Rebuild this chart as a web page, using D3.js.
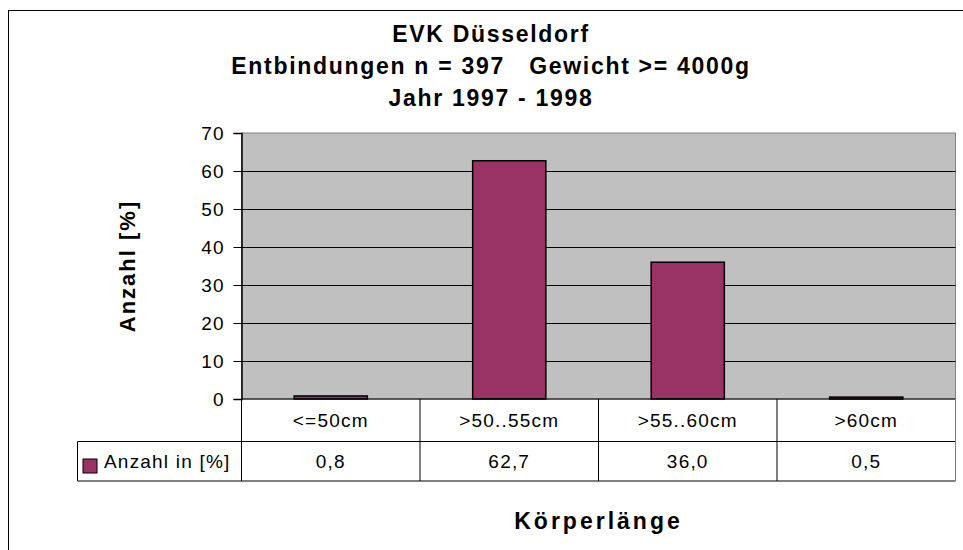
<!DOCTYPE html>
<html>
<head>
<meta charset="utf-8">
<script src="https://cdn.jsdelivr.net/npm/d3@7"></script>
<style>
  html, body { margin: 0; padding: 0; background: #fff; }
  svg text { font-family: "Liberation Sans", Arial, sans-serif; fill: #000; }
</style>
</head>
<body>
<div id="chart"></div>
<script>
// chart data
const titleLines = ['EVK Düsseldorf', 'Entbindungen n = 397   Gewicht >= 4000g', 'Jahr 1997 - 1998'];
const categories = ['<=50cm', '>50..55cm', '>55..60cm', '>60cm'];
const values = [0.8, 62.7, 36.0, 0.5];
const valueLabels = ['0,8', '62,7', '36,0', '0,5'];
const yTicks = [0, 10, 20, 30, 40, 50, 60, 70];
const seriesName = 'Anzahl in [%]';
const yTitle = 'Anzahl [%]';
const xTitle = 'Körperlänge';

const width = 963, height = 550;
const plot = { left: 241.5, right: 955.5, top: 133, bottom: 399 };
const tableRows = [399, 441.5, 481];
const tableLeft = 77.5;
const barColor = '#993366';

const svg = d3.select('#chart').append('svg')
    .attr('width', width)
    .attr('height', height);

// outer frame (runs off the page to the right and bottom)
svg.append('rect')
    .attr('x', 8.5).attr('y', 10.5)
    .attr('width', 1000).attr('height', 600)
    .attr('fill', 'none').attr('stroke', '#000');

// title
svg.append('g').selectAll('text')
    .data(titleLines)
    .enter().append('text')
    .attr('x', 491)
    .attr('y', (d, i) => 42 + i * 32)
    .attr('text-anchor', 'middle')
    .style('font-size', '23px')
    .style('font-weight', 'bold')
    .style('letter-spacing', '1.7px')
    .style('white-space', 'pre')
    .text(d => d);

const x = d3.scaleBand()
    .domain(categories)
    .range([plot.left, plot.right])
    .paddingInner(0.59)
    .paddingOuter(0.295);

const xCell = d3.scaleBand()
    .domain(categories)
    .range([plot.left, plot.right])
    .padding(0);

const y = d3.scaleLinear()
    .domain([0, 70])
    .range([plot.bottom, plot.top]);

// plot background
svg.append('rect')
    .attr('x', plot.left).attr('y', plot.top)
    .attr('width', plot.right - plot.left)
    .attr('height', plot.bottom - plot.top)
    .attr('fill', '#c0c0c0')
    .attr('stroke', '#808080');

// gridlines
svg.append('g').selectAll('line')
    .data(yTicks.filter(t => t > 0 && t < 70))
    .enter().append('line')
    .attr('x1', plot.left).attr('x2', plot.right)
    .attr('y1', d => Math.round(y(d)) + 0.5)
    .attr('y2', d => Math.round(y(d)) + 0.5)
    .attr('stroke', '#000');

// bars
svg.append('g').selectAll('rect')
    .data(values)
    .enter().append('rect')
    .attr('x', (d, i) => x(categories[i]))
    .attr('y', d => y(d))
    .attr('width', x.bandwidth())
    .attr('height', d => y(0) - y(d))
    .attr('fill', barColor)
    .attr('stroke', '#000')
    .attr('stroke-width', 1.5);

// y axis
const yAxis = svg.append('g')
    .attr('transform', 'translate(' + plot.left + ',0)')
    .call(d3.axisLeft(y).tickValues(yTicks).tickSize(8).tickPadding(9));
yAxis.select('.domain').attr('stroke', '#000').attr('stroke-width', 1.5);
yAxis.selectAll('.tick line').attr('stroke', '#000');
yAxis.selectAll('.tick text')
    .style('font-size', '19px')
    .style('letter-spacing', '1px')
    .attr('font-family', null);

// y axis title
svg.append('text')
    .attr('transform', 'translate(135,266) rotate(-90)')
    .attr('text-anchor', 'middle')
    .style('font-size', '22px')
    .style('font-weight', 'bold')
    .style('letter-spacing', '2px')
    .text(yTitle);

// data table
const table = svg.append('g');
const cellStroke = '#000';

// horizontal lines
table.append('line')
    .attr('x1', plot.left).attr('x2', plot.right)
    .attr('y1', tableRows[0]).attr('y2', tableRows[0])
    .attr('stroke', cellStroke);
table.selectAll('line.row')
    .data(tableRows.slice(1))
    .enter().append('line')
    .attr('class', 'row')
    .attr('x1', tableLeft).attr('x2', plot.right)
    .attr('y1', d => d).attr('y2', d => d)
    .attr('stroke', cellStroke);

// vertical lines
const cellEdges = categories.map(c => xCell(c));
table.selectAll('line.col')
    .data(cellEdges)
    .enter().append('line')
    .attr('class', 'col')
    .attr('x1', d => d).attr('x2', d => d)
    .attr('y1', tableRows[0]).attr('y2', tableRows[2])
    .attr('stroke', cellStroke);
table.append('line')
    .attr('x1', plot.right).attr('x2', plot.right)
    .attr('y1', tableRows[0]).attr('y2', tableRows[2])
    .attr('stroke', '#808080');
table.append('line')
    .attr('x1', tableLeft).attr('x2', tableLeft)
    .attr('y1', tableRows[1]).attr('y2', tableRows[2])
    .attr('stroke', cellStroke);

// category labels
table.selectAll('text.cat')
    .data(categories)
    .enter().append('text')
    .attr('class', 'cat')
    .attr('x', d => xCell(d) + xCell.bandwidth() / 2)
    .attr('y', (tableRows[0] + tableRows[1]) / 2)
    .attr('dy', '0.35em')
    .attr('text-anchor', 'middle')
    .style('font-size', '19px')
    .style('letter-spacing', '1.2px')
    .text(d => d);

// value labels
table.selectAll('text.val')
    .data(valueLabels)
    .enter().append('text')
    .attr('class', 'val')
    .attr('x', (d, i) => xCell(categories[i]) + xCell.bandwidth() / 2)
    .attr('y', (tableRows[1] + tableRows[2]) / 2)
    .attr('dy', '0.35em')
    .attr('text-anchor', 'middle')
    .style('font-size', '19px')
    .style('letter-spacing', '1.2px')
    .text(d => d);

// legend key in table
table.append('rect')
    .attr('x', 83).attr('y', 459)
    .attr('width', 14).attr('height', 14)
    .attr('fill', barColor)
    .attr('stroke', '#000');
table.append('text')
    .attr('x', 104)
    .attr('y', (tableRows[1] + tableRows[2]) / 2)
    .attr('dy', '0.35em')
    .style('font-size', '19px')
    .style('letter-spacing', '1.2px')
    .text(seriesName);

// x axis title
svg.append('text')
    .attr('x', (plot.left + plot.right) / 2)
    .attr('y', 529)
    .attr('text-anchor', 'middle')
    .style('font-size', '23px')
    .style('font-weight', 'bold')
    .style('letter-spacing', '3px')
    .text(xTitle);
</script>
</body>
</html>
